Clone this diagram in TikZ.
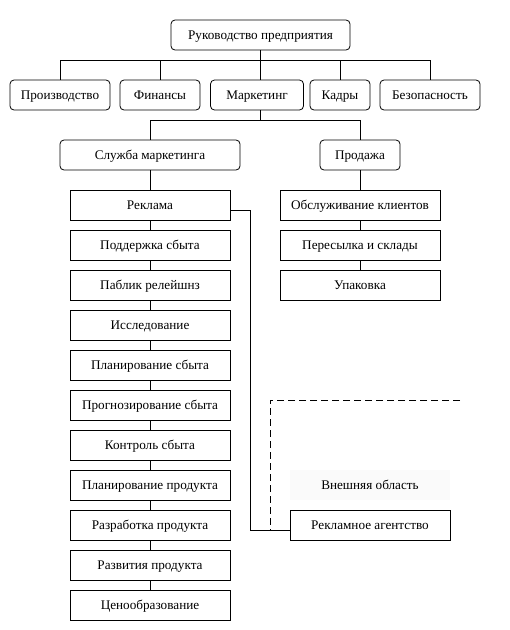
\documentclass[tikz,border=0pt]{standalone}
\usepackage{fontspec}
\setmainfont{Liberation Serif}
\usetikzlibrary{positioning}

\begin{document}
\begin{tikzpicture}[
    x=1pt,y=-1pt,
    node distance=10pt and 10pt,
    font=\fontsize{13.2}{15}\selectfont,
    line width=0.8pt,
    every node/.style={text height=10pt,text depth=2pt},
    unit/.style={draw,rounded corners=4pt,minimum height=30pt,inner sep=2pt,outer sep=0pt},
    item/.style={draw,minimum width=160pt,minimum height=30pt,inner sep=2pt,outer sep=0pt},
    zone/.style={dash pattern=on 7pt off 4pt}
  ]
    \useasboundingbox (0,0) rectangle (510,630);
    \node[unit,minimum width=179pt] (head) at (260.5,35) {Руководство предприятия};
    \node[unit,minimum width=100pt] (prod) at (60,95) {Производство};
    \node[unit,minimum width=80pt] (fin) at (160,95) {Финансы};
    \node[unit,minimum width=93pt] (mark) at (257,95) {Маркетинг};
    \node[unit,minimum width=60pt] (staff) at (340,95) {Кадры};
    \node[unit,minimum width=100pt] (safe) at (430,95) {Безопасность};
    \node[unit,minimum width=180pt] (service) at (150,155) {Служба маркетинга};
    \node[unit,minimum width=80pt] (sales) at (360,155) {Продажа};

    % левая колонка
    \node[item,below=20pt of service] (adv) {Реклама};
    \node[item,below=of adv] (promo) {Поддержка сбыта};
    \node[item,below=of promo] (pr) {Паблик релейшнз};
    \node[item,below=of pr] (research) {Исследование};
    \node[item,below=of research] (plansales) {Планирование сбыта};
    \node[item,below=of plansales] (forecast) {Прогнозирование сбыта};
    \node[item,below=of forecast] (control) {Контроль сбыта};
    \node[item,below=of control] (planprod) {Планирование продукта};
    \node[item,below=of planprod] (devprod) {Разработка продукта};
    \node[item,below=of devprod] (growprod) {Развития продукта};
    \node[item,below=of growprod] (price) {Ценообразование};

    % правая колонка
    \node[item,below=20pt of sales] (clients) {Обслуживание клиентов};
    \node[item,below=of clients] (ship) {Пересылка и склады};
    \node[item,below=of ship] (pack) {Упаковка};

    \node[fill=black!2,minimum width=160pt,minimum height=30pt] (outer) at (370,485) {Внешняя область};
    \node[item] (agency) at (370,525) {Рекламное агентство};

    \draw (head.south) -- ++(0,10) coordinate (bus);
    \draw (bus -| prod.north) -- (bus -| safe.north);
    \draw (bus -| prod.north) -- (prod.north);
    \draw (bus -| fin.north) -- (fin.north);
    \draw (bus) -- (bus |- mark.north);
    \draw (bus -| staff.north) -- (staff.north);
    \draw (bus -| safe.north) -- (safe.north);

    \draw (mark.south -| bus) -- ++(0,10) coordinate (split);
    \draw (split -| service.north) -- (split -| sales.north);
    \draw (split -| service.north) -- (service.north);
    \draw (split -| sales.north) -- (sales.north);

    \draw (service) -- (adv) -- (promo) -- (pr) -- (research) -- (plansales) -- (forecast)
      -- (control) -- (planprod) -- (devprod) -- (growprod) -- (price);
    \draw (sales) -- (clients) -- (ship) -- (pack);

    \coordinate (advout) at ([yshift=-5pt]adv.east);
    \coordinate (agentin) at ([yshift=-5pt]agency.west);
    \draw (advout) -- ++(20,0) |- (agentin);
    \coordinate (edge) at (270,400);
    \draw[zone] (460,400) -- (edge) -- (edge |- agentin);
\end{tikzpicture}
\end{document}
